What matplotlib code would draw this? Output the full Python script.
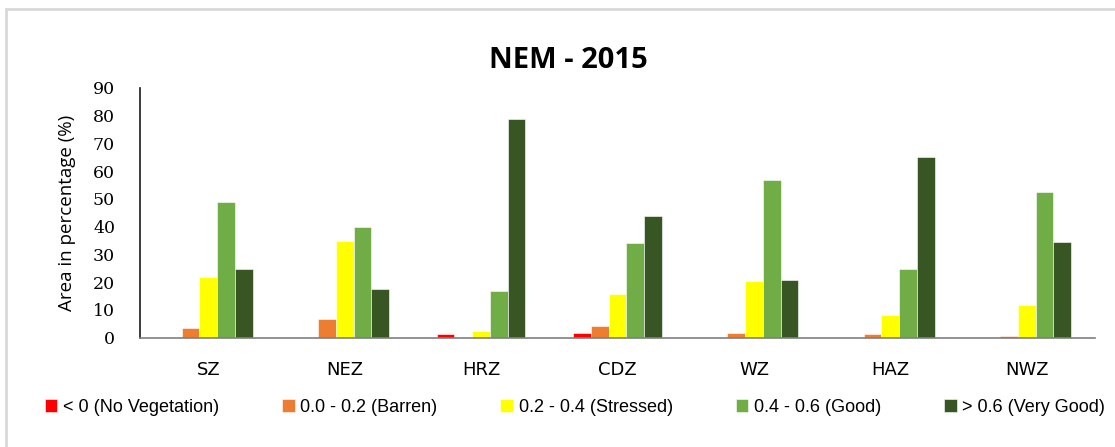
import matplotlib
matplotlib.use("Agg")
import matplotlib.pyplot as plt
from matplotlib.patches import Rectangle
import numpy as np

categories = ["SZ", "NEZ", "HRZ", "CDZ", "WZ", "HAZ", "NWZ"]
series_names = ["< 0 (No Vegetation)", "0.0 - 0.2 (Barren)", "0.2 - 0.4 (Stressed)",
                "0.4 - 0.6 (Good)", "> 0.6 (Very Good)"]
no_vegetation = [0.0, 0.0, 1.3, 1.7, 0.0, 0.0, 0.0]
barren = [3.6, 6.9, 0.0, 4.2, 1.7, 1.3, 0.6]
stressed = [21.9, 34.9, 2.4, 15.6, 20.5, 8.2, 11.9]
good = [48.9, 40.0, 16.8, 34.2, 56.7, 24.9, 52.6]
very_good = [24.9, 17.6, 78.8, 43.8, 20.8, 65.1, 34.5]
colors = ["#FF0000", "#ED7D31", "#FFFF00", "#70AD47", "#375623"]
yticks = list(range(0, 91, 10))

series = [no_vegetation, barren, stressed, good, very_good]

W, H = 1115, 447
fig = plt.figure(figsize=(W / 100, H / 100), dpi=100)
fig.patch.set_facecolor("white")

# outer chart border (light gray)
fig.add_artist(Rectangle((6 / W, -0.05), 1.2, 1 - 9 / H + 0.05, transform=fig.transFigure,
                         fill=False, edgecolor="#D9D9D9", linewidth=2))

ax = fig.add_axes([140 / W, 1 - 337.7 / H, (1095 - 140) / W, (337.7 - 88) / H])
x = np.arange(len(categories))
bw = 0.13
for i, (vals, c, name) in enumerate(zip(series, colors, series_names)):
    ax.bar(x + (i - 2) * bw, vals, width=bw, color=c, label=name,
           edgecolor="white", linewidth=0.4)

ax.set_xlim(-0.5, len(categories) - 0.5)
ax.set_ylim(0, 90)
ax.set_yticks(yticks)
ax.set_yticklabels([str(t) for t in yticks], family="DejaVu Serif", fontsize=12.5)
ax.set_xticks(x)
ax.set_xticklabels(categories, family="DejaVu Sans", fontsize=13)
ax.tick_params(axis="both", length=0)
ax.tick_params(axis="x", pad=17)
ax.tick_params(axis="y", pad=18)
for s in ["top", "right"]:
    ax.spines[s].set_visible(False)
ax.spines["left"].set_color("#1A1A1A")
ax.spines["left"].set_linewidth(1.2)
ax.spines["bottom"].set_color("#7F7F7F")
ax.spines["bottom"].set_linewidth(1.2)
ax.set_ylabel("Area in percentage (%)", family="Open Sans", fontsize=13.5, labelpad=12)

fig.text(568 / W, 1 - 61 / H, "NEM - 2015", ha="center", va="center",
         family="Open Sans", fontweight="bold", fontsize=21)

handles, labels = ax.get_legend_handles_labels()
leg = fig.legend(handles, labels, loc="center", bbox_to_anchor=(575 / W, 1 - 407 / H),
                 ncol=5, frameon=False, handlelength=0.7, handleheight=0.7,
                 handletextpad=0.3, columnspacing=3.5,
                 prop={"family": "Liberation Sans", "size": 13})

fig.savefig("out.png", dpi=100)
